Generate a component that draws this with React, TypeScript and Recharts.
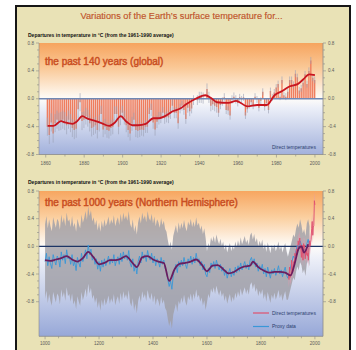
import React from 'react';
import { ComposedChart, Bar, Line, Area, XAxis, YAxis, CartesianGrid, ReferenceLine, ErrorBar } from 'recharts';

const FONT = '"Liberation Sans", Arial, Helvetica, sans-serif';
const BEIGE = '#e9e2b6';

// ---------- Top panel: past 140 years (global) ----------
const globalStartYear = 1861;
const globalTemps = [
  -0.40, -0.52, -0.34, -0.50, -0.35, -0.30, -0.33, -0.32, -0.30, -0.32,
  -0.38, -0.30, -0.35, -0.42, -0.45, -0.43, -0.15, -0.05, -0.32, -0.30,
  -0.25, -0.28, -0.35, -0.42, -0.40, -0.38, -0.45, -0.35, -0.22, -0.44,
  -0.40, -0.45, -0.46, -0.42, -0.40, -0.22, -0.22, -0.40, -0.27, -0.20,
  -0.27, -0.38, -0.45, -0.50, -0.36, -0.30, -0.45, -0.46, -0.45, -0.44,
  -0.45, -0.40, -0.40, -0.22, -0.16, -0.34, -0.44, -0.33, -0.28, -0.27,
  -0.20, -0.28, -0.26, -0.27, -0.21, -0.10, -0.20, -0.20, -0.35, -0.14,
  -0.10, -0.16, -0.29, -0.13, -0.18, -0.14, -0.02, 0.00, -0.02, 0.02,
  0.02, 0.01, 0.00, 0.14, 0.02, -0.10, -0.08, -0.10, -0.12, -0.20,
  -0.09, -0.04, 0.02, -0.16, -0.17, -0.24, -0.01, 0.03, -0.01, -0.06,
  0.02, -0.01, 0.02, -0.24, -0.15, -0.09, -0.05, -0.10, 0.03, -0.01,
  -0.13, -0.03, 0.10, -0.12, -0.06, -0.16, 0.11, 0.02, 0.09, 0.16,
  0.21, 0.03, 0.27, 0.05, 0.03, 0.10, 0.27, 0.27, 0.20, 0.36,
  0.31, 0.12, 0.15, 0.23, 0.35, 0.21, 0.40, 0.55, 0.30, 0.27,
];
// half-width of the grey uncertainty bars, per decade from the 1860s
const globalErrByDecade = [0.13, 0.13, 0.12, 0.11, 0.1, 0.09, 0.08, 0.07, 0.08, 0.06, 0.05, 0.05, 0.05, 0.05];
const globalSmoothYears = [1861, 1864, 1868, 1870, 1874, 1876, 1879, 1882, 1886, 1889, 1893, 1896, 1899, 1902, 1905, 1908, 1912, 1916, 1919, 1922, 1926, 1930, 1933, 1938, 1943, 1946, 1949, 1955, 1959, 1965, 1970, 1975, 1979, 1983, 1987, 1991, 1994, 1997, 2000];
const globalSmoothValues = [-0.39, -0.39, -0.32, -0.34, -0.36, -0.33, -0.25, -0.29, -0.32, -0.35, -0.39, -0.34, -0.25, -0.33, -0.38, -0.38, -0.36, -0.28, -0.28, -0.25, -0.18, -0.14, -0.08, 0.0, 0.05, 0.01, -0.05, -0.06, -0.03, -0.11, -0.09, -0.09, 0.05, 0.11, 0.18, 0.21, 0.28, 0.35, 0.34];
const topXTicks = [1860, 1870, 1880, 1890, 1900, 1910, 1920, 1930, 1940, 1950, 1960, 1970, 1980, 1990, 2000];
const topXLabelEvery = 20;

// ---------- Bottom panel: past 1000 years (NH) ----------
const proxyStartYear = 1000;
const proxyStep = 5;
const proxyValues = [
  -0.22, -0.10, -0.28, -0.15, -0.25, -0.32, -0.12, -0.20, -0.27, -0.14,
  -0.18, -0.30, -0.08, -0.20, -0.12, -0.25, -0.05, -0.18, -0.15, -0.26,
  -0.12, -0.28, -0.22, -0.35, -0.16, -0.24, -0.30, -0.10, -0.22, -0.15,
  -0.05, -0.18, 0.02, -0.12, -0.04, -0.20, -0.14, -0.26, -0.18, -0.33,
  -0.22, -0.36, -0.20, -0.30, -0.18, -0.28, -0.22, -0.14, -0.26, -0.18,
  -0.24, -0.12, -0.28, -0.20, -0.15, -0.26, -0.10, -0.22, -0.08, -0.18,
  -0.12, -0.20, -0.06, -0.24, -0.30, -0.18, -0.36, -0.26, -0.40, -0.22,
  -0.14, -0.24, -0.08, -0.18, -0.12, -0.22, -0.06, -0.16, -0.20, -0.10,
  -0.24, -0.14, -0.28, -0.18, -0.22, -0.30, -0.16, -0.26, -0.20, -0.32,
  -0.36, -0.48, -0.58, -0.50, -0.62, -0.42, -0.34, -0.26, -0.38, -0.22,
  -0.30, -0.20, -0.28, -0.16, -0.26, -0.32, -0.18, -0.24, -0.14, -0.26,
  -0.16, -0.24, -0.10, -0.22, -0.18, -0.28, -0.22, -0.34, -0.26, -0.40,
  -0.44, -0.32, -0.38, -0.24, -0.30, -0.22, -0.32, -0.20, -0.28, -0.34,
  -0.26, -0.36, -0.30, -0.42, -0.34, -0.46, -0.38, -0.32, -0.44, -0.36,
  -0.42, -0.30, -0.38, -0.28, -0.36, -0.24, -0.34, -0.28, -0.22, -0.32,
  -0.26, -0.34, -0.20, -0.16, -0.26, -0.18, -0.30, -0.24, -0.36, -0.28,
  -0.34, -0.26, -0.40, -0.32, -0.44, -0.30, -0.38, -0.46, -0.34, -0.40,
  -0.32, -0.42, -0.36, -0.28, -0.40, -0.34, -0.44, -0.36, -0.30, -0.42,
  -0.46, -0.38, -0.30, -0.22, -0.14, -0.18, -0.06, 0.02, -0.04, 0.08,
  0.02, -0.10, -0.04, -0.14, 0.04, 0.10, 0.00,
];
// half-width of the grey uncertainty band, per 50-year segment from 1000
const proxyBandHalfWidth = [0.54, 0.54, 0.56, 0.56, 0.57, 0.57, 0.57, 0.57, 0.57, 0.57, 0.54, 0.52, 0.37, 0.37, 0.37, 0.36, 0.36, 0.35, 0.31, 0.29];
const nhSmoothYears = [1000, 1020, 1040, 1060, 1080, 1100, 1120, 1140, 1160, 1180, 1200, 1220, 1240, 1260, 1280, 1300, 1320, 1340, 1360, 1380, 1400, 1420, 1440, 1460, 1480, 1500, 1520, 1540, 1560, 1580, 1600, 1620, 1640, 1660, 1680, 1700, 1720, 1740, 1760, 1770, 1790, 1810, 1830, 1850, 1870, 1890, 1910, 1925, 1940, 1950, 1960, 1975];
const nhSmoothValues = [
  -0.20, -0.21, -0.19, -0.17, -0.14, -0.19, -0.22, -0.17, -0.08, -0.16,
  -0.26, -0.24, -0.20, -0.20, -0.18, -0.14, -0.22, -0.30, -0.16, -0.14,
  -0.19, -0.22, -0.24, -0.50, -0.33, -0.25, -0.24, -0.22, -0.19, -0.26,
  -0.36, -0.28, -0.27, -0.33, -0.39, -0.37, -0.32, -0.29, -0.28, -0.22,
  -0.30, -0.35, -0.38, -0.37, -0.37, -0.38, -0.42, -0.25, -0.03, 0.00,
  -0.09, 0.03,
];
const directStartYear = 1902;
const directStep = 2;
const directValues = [
  -0.42, -0.48, -0.30, -0.45, -0.40, -0.42, -0.20, -0.32, -0.36, -0.25,
  -0.22, -0.28, -0.10, -0.14, -0.10, -0.04, -0.12, -0.06, 0.08, 0.02,
  0.06, 0.12, -0.02, -0.04, -0.16, 0.02, -0.08, -0.20, 0.04, -0.02,
  0.02, -0.18, -0.06, -0.12, -0.04, -0.14, -0.10, -0.20, -0.02, 0.08,
  0.00, 0.06, 0.10, 0.26, 0.36, 0.16, 0.28, 0.30, 0.66, 0.60,
];
const directBandHalfWidth = 0.12;
const bottomXTicks = [1000, 1050, 1100, 1150, 1200, 1250, 1300, 1350, 1400, 1450, 1500, 1550, 1600, 1650, 1700, 1750, 1800, 1850, 1900, 1950, 2000];
const bottomXLabelEvery = 200;

const yTicks = [-0.8, -0.7, -0.6, -0.5, -0.4, -0.3, -0.2, -0.1, 0, 0.1, 0.2, 0.3, 0.4, 0.5, 0.6, 0.7, 0.8];
const yMajor = [-0.8, -0.4, 0, 0.4, 0.8];

// ---------- tables ----------
const topData = globalTemps.map((t, i) => {
  const year = globalStartYear + i;
  const e = globalErrByDecade[Math.min(Math.floor((year - 1860) / 10), globalErrByDecade.length - 1)];
  return { year, temp: t, err: e };
});
const topSmooth = globalSmoothYears.map((year, i) => ({ year, v: globalSmoothValues[i] }));

const proxyData = proxyValues.map((v, i) => {
  const year = proxyStartYear + i * proxyStep;
  const hw = proxyBandHalfWidth[Math.min(Math.floor((year - 1000) / 50), proxyBandHalfWidth.length - 1)];
  return { year, v, band: [v - hw, v + hw] };
});
const nhSmooth = nhSmoothYears.map((year, i) => ({ year, v: nhSmoothValues[i] }));
const directData = directValues.map((v, i) => ({
  year: directStartYear + i * directStep,
  v,
  band: [v - directBandHalfWidth, v + directBandHalfWidth],
}));

const AXIS_COLOR = '#8a8a8a';
const LABEL_COLOR = '#5a5a5a';

const fmtY = (v: number) => (Math.abs(v) < 1e-9 ? '0.0' : v.toFixed(1));

const makeYTick = (side: 'left' | 'right') => (props: any) => {
  const { x, y, payload } = props;
  const v = payload.value as number;
  const major = yMajor.some((m) => Math.abs(m - v) < 1e-6);
  const dir = side === 'left' ? -1 : 1;
  const len = major ? 3 : 2;
  return (
    <g>
      <line x1={x} x2={x + dir * len} y1={y} y2={y} stroke={AXIS_COLOR} strokeWidth={0.6} />
      {major && (
        <text
          x={x + dir * 5}
          y={y}
          dy="0.35em"
          textAnchor={side === 'left' ? 'end' : 'start'}
          fontSize={4.6}
          fill={LABEL_COLOR}
          fontFamily={FONT}
        >
          {fmtY(v)}
        </text>
      )}
    </g>
  );
};

const makeXTick = (labelEvery: number, labelOffset: number) => (props: any) => {
  const { x, y, payload } = props;
  const v = payload.value as number;
  const major = v % labelEvery === 0;
  return (
    <g>
      <line x1={x} x2={x} y1={y} y2={y + (major ? 3 : 2)} stroke={AXIS_COLOR} strokeWidth={0.6} />
      {major && (
        <text x={x} y={y + labelOffset} dy="0.35em" textAnchor="middle" fontSize={4.6} fill={LABEL_COLOR} fontFamily={FONT}>
          {v}
        </text>
      )}
    </g>
  );
};

const TopChart = () => (
  <ComposedChart
    width={356}
    height={175}
    data={topData}
    margin={{ top: 43, right: 13, bottom: 5.5, left: 19 }}
    barGap={0}
  >
    <defs>
      <linearGradient id="gTop" x1="0" y1="0" x2="0" y2="1">
        <stop offset="0%" stopColor="#f6a45e" />
        <stop offset="22%" stopColor="#fac896" />
        <stop offset="42%" stopColor="#fdeedd" />
        <stop offset="50%" stopColor="#fefcf9" />
        <stop offset="58%" stopColor="#eceff8" />
        <stop offset="100%" stopColor="#a2b1dc" />
      </linearGradient>
    </defs>
    <CartesianGrid horizontal={false} vertical={false} fill="url(#gTop)" stroke="none" />
    <XAxis
      dataKey="year"
      type="number"
      domain={[1856.5, 2004.2]}
      allowDataOverflow
      ticks={topXTicks}
      interval={0}
      height={15}
      tickSize={0}
      tickMargin={0}
      tickLine={false}
      axisLine={{ stroke: AXIS_COLOR, strokeWidth: 0.8 }}
      tick={makeXTick(topXLabelEvery, 8.8)}
    />
    <YAxis
      type="number"
      domain={[-0.8, 0.8]}
      allowDataOverflow
      ticks={yTicks}
      interval={0}
      width={20}
      tickSize={0}
      tickMargin={0}
      tickLine={false}
      axisLine={{ stroke: AXIS_COLOR, strokeWidth: 0.6 }}
      tick={makeYTick('left')}
    />
    <YAxis
      yAxisId="r"
      orientation="right"
      type="number"
      domain={[-0.8, 0.8]}
      allowDataOverflow
      ticks={yTicks}
      interval={0}
      width={20}
      tickSize={0}
      tickMargin={0}
      tickLine={false}
      axisLine={{ stroke: AXIS_COLOR, strokeWidth: 0.8 }}
      tick={makeYTick('right')}
    />
    <Bar dataKey="temp" fill="#ef7d5e" barSize={1.4} isAnimationActive={false}>
      <ErrorBar dataKey="err" width={0} stroke="#9aa0b4" strokeWidth={0.6} direction="y" />
    </Bar>
    <ReferenceLine y={0} stroke="#7088b4" strokeWidth={1.3} />
    <Line
      data={topSmooth}
      dataKey="v"
      type="monotone"
      stroke="#c8151f"
      strokeWidth={1.8}
      dot={false}
      isAnimationActive={false}
    />
  </ComposedChart>
);

const BottomChart = () => (
  <ComposedChart width={356} height={175} margin={{ top: 16, right: 13, bottom: 0.7, left: 19 }}>
    <defs>
      <linearGradient id="gBot" x1="0" y1="0" x2="0" y2="1">
        <stop offset="0%" stopColor="#f7a660" />
        <stop offset="18%" stopColor="#fbcf9f" />
        <stop offset="33%" stopColor="#fdf1e4" />
        <stop offset="38%" stopColor="#fefcf9" />
        <stop offset="46%" stopColor="#eef0f8" />
        <stop offset="100%" stopColor="#97a8d8" />
      </linearGradient>
    </defs>
    <CartesianGrid horizontal={false} vertical={false} fill="url(#gBot)" stroke="none" />
    <XAxis
      dataKey="year"
      type="number"
      domain={[977.5, 2030]}
      allowDataOverflow
      ticks={bottomXTicks}
      interval={0}
      height={13}
      tickSize={0}
      tickMargin={0}
      tickLine={false}
      axisLine={{ stroke: AXIS_COLOR, strokeWidth: 0.8 }}
      tick={makeXTick(bottomXLabelEvery, 7)}
    />
    <YAxis
      type="number"
      domain={[-1.3, 0.8]}
      allowDataOverflow
      ticks={yTicks}
      interval={0}
      width={20}
      tickSize={0}
      tickMargin={0}
      tickLine={false}
      axisLine={{ stroke: AXIS_COLOR, strokeWidth: 0.6 }}
      tick={makeYTick('left')}
    />
    <YAxis
      yAxisId="r"
      orientation="right"
      type="number"
      domain={[-1.3, 0.8]}
      allowDataOverflow
      ticks={yTicks}
      interval={0}
      width={20}
      tickSize={0}
      tickMargin={0}
      tickLine={false}
      axisLine={{ stroke: AXIS_COLOR, strokeWidth: 0.8 }}
      tick={makeYTick('right')}
    />
    <Area
      data={proxyData}
      dataKey="band"
      type="linear"
      stroke="none"
      fill="#a09fa6"
      fillOpacity={0.82}
      isAnimationActive={false}
    />
    <Area
      data={directData}
      dataKey="band"
      type="linear"
      stroke="none"
      fill="#e49aae"
      fillOpacity={0.55}
      isAnimationActive={false}
    />
    <ReferenceLine y={0} stroke="#1d3566" strokeWidth={1.2} />
    <Line data={proxyData} dataKey="v" type="linear" stroke="#3a97d8" strokeWidth={0.9} dot={false} isAnimationActive={false} />
    <Line data={directData} dataKey="v" type="linear" stroke="#e0506e" strokeWidth={0.9} dot={false} isAnimationActive={false} />
    <Line data={nhSmooth} dataKey="v" type="monotone" stroke="#6b1d5e" strokeWidth={1.8} dot={false} isAnimationActive={false} />
  </ComposedChart>
);

const abs = (style: React.CSSProperties): React.CSSProperties => ({
  position: 'absolute',
  whiteSpace: 'nowrap',
  lineHeight: 1,
  fontFamily: FONT,
  ...style,
});

export default function App() {
  return (
    <div style={{ position: 'fixed', left: 0, top: 0, width: 356, height: 350, background: '#ffffff', overflow: 'hidden' }}>
      <div
        style={{
          position: 'absolute',
          left: 15,
          top: 5,
          width: 336,
          height: 360,
          border: '2px solid #161616',
          background: BEIGE,
          boxSizing: 'border-box',
        }}
      />
      <div style={{ position: 'absolute', left: 0, top: 0 }}>
        <TopChart />
      </div>
      <div style={{ position: 'absolute', left: 0, top: 175 }}>
        <BottomChart />
      </div>

      <div style={abs({ left: 181.5, top: 12.4, transform: 'translateX(-50%)', fontSize: 9.2, color: '#c0532b', WebkitTextStroke: '0.15px #c0532b' })}>
        Variations of the Earth’s surface temperature for...
      </div>
      <div style={abs({ left: 28, top: 32.5, fontSize: 5, fontWeight: 'bold', color: '#111' })}>
        Departures in temperature in °C (from the 1961-1990 average)
      </div>
      <div style={abs({ left: 28, top: 179.5, fontSize: 5, fontWeight: 'bold', color: '#111' })}>
        Departures in temperature in °C (from the 1961-1990 average)
      </div>
      <div style={abs({ left: 45, top: 57, fontSize: 10, color: '#c94e22', WebkitTextStroke: '0.45px #c94e22' })}>
        the past 140 years (global)
      </div>
      <div style={abs({ left: 45, top: 198, fontSize: 10, color: '#c94e22', WebkitTextStroke: '0.45px #c94e22' })}>
        the past 1000 years (Northern Hemisphere)
      </div>
      <div style={abs({ left: 272, top: 144.5, fontSize: 5, color: '#2c3d6e' })}>Direct temperatures</div>

      <svg style={{ position: 'absolute', left: 0, top: 0, pointerEvents: 'none' }} width={356} height={350}>
        <line x1={253} x2={269} y1={313} y2={313} stroke="#e0506e" strokeWidth={1.2} />
        <line x1={253} x2={269} y1={326.5} y2={326.5} stroke="#3a97d8" strokeWidth={1.2} />
      </svg>
      <div style={abs({ left: 272, top: 310.5, fontSize: 5, color: '#2c3d6e' })}>Direct temperatures</div>
      <div style={abs({ left: 272, top: 324, fontSize: 5, color: '#2c3d6e' })}>Proxy data</div>
    </div>
  );
}
